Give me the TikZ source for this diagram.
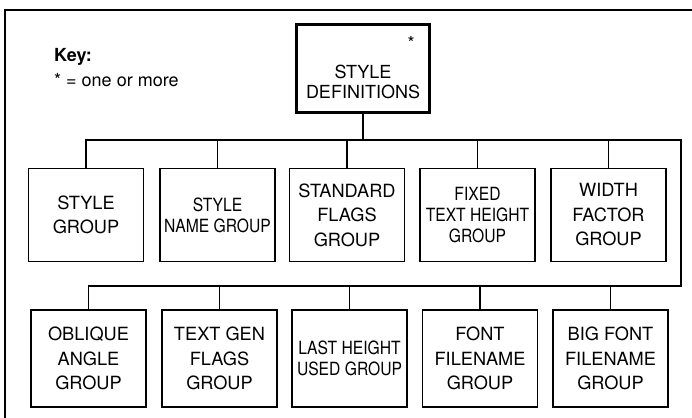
\documentclass[tikz,border=0pt]{standalone}
\usepackage{fontspec}
\setmainfont{TeX Gyre Heros}
\newfontfamily\narrowfont[FakeStretch=0.86]{TeX Gyre Heros}

\tikzset{
  group/.style={draw, line width=1.5pt, minimum width=115pt, minimum height=93pt,
    inner sep=0pt, align=center, font=\fontsize{18.2}{24.5}\selectfont},
  narrowgroup/.style={group, font=\narrowfont\fontsize{18.2}{21}\selectfont},
  lowgroup/.style={minimum height=97pt},
  defbox/.style={draw, line width=3.3pt, minimum width=133pt, minimum height=88pt},
  bus/.style={line width=1.5pt},
}

\begin{document}
\begin{tikzpicture}[x=1pt, y=-1pt]
  \useasboundingbox (0,0) rectangle (692,417);
  % frame, only top and left show
  \draw[line width=1.5pt] (5,430) -- (5,10) -- (705,10);

  % key
  \node[anchor=base west, inner sep=0pt, font=\fontsize{18}{21}\selectfont\bfseries] (keytitle) at (54,62) {Key:};
  \node[anchor=base west, inner sep=0pt, font=\fontsize{18}{21}\selectfont] (keyline) at (54,87) {* = one or more};

  % top
  \node[defbox] (defs) at (363,68.5) {};
  \node[align=center, inner sep=0pt, font=\fontsize{18}{20.7}\selectfont] (defstext) at (363,82) {STYLE\\DEFINITIONS};
  \node[inner sep=0pt, font=\fontsize{18}{20}\selectfont] (defstar) at (411,43) {*};

  % first row
  \node[group] (stylegrp) at (86,215) {STYLE\\GROUP};
  \node[narrowgroup] (namegrp) at (217.5,215) {STYLE\\NAME GROUP};
  \node[group] (flagsgrp) at (347,215) {STANDARD\\FLAGS\\GROUP};
  \node[narrowgroup] (heightgrp) at (477.5,215) {FIXED\\TEXT HEIGHT\\GROUP};
  \node[group] (widthgrp) at (608.5,215) {WIDTH\\FACTOR\\GROUP};

  % second row
  \node[group, lowgroup] (obliquegrp) at (88.5,358.5) {OBLIQUE\\ANGLE\\GROUP};
  \node[group, lowgroup] (textgengrp) at (219.5,358.5) {TEXT GEN\\FLAGS\\GROUP};
  \node[narrowgroup, lowgroup] (lastgrp) at (349.5,358.5) {LAST HEIGHT\\USED GROUP};
  \node[group, lowgroup] (fontgrp) at (480,358.5) {FONT\\FILENAME\\GROUP};
  \node[group, lowgroup] (bigfontgrp) at (610.5,358.5) {BIG FONT\\FILENAME\\GROUP};

  % buses
  \coordinate (busA) at (681,140);
  \coordinate (busB) at (681,286);
  \draw[bus] (defs.south) -- (defs.south |- busA);
  \draw[bus] (stylegrp.north) |- (busA) -- (busB) -| (obliquegrp.north);
  \foreach \n in {namegrp, flagsgrp, heightgrp, widthgrp}
    \draw[bus] (\n.north) -- (\n.north |- busA);
  \foreach \n in {textgengrp, lastgrp, fontgrp, bigfontgrp}
    \draw[bus] (\n.north) -- (\n.north |- busB);
\end{tikzpicture}
\end{document}
